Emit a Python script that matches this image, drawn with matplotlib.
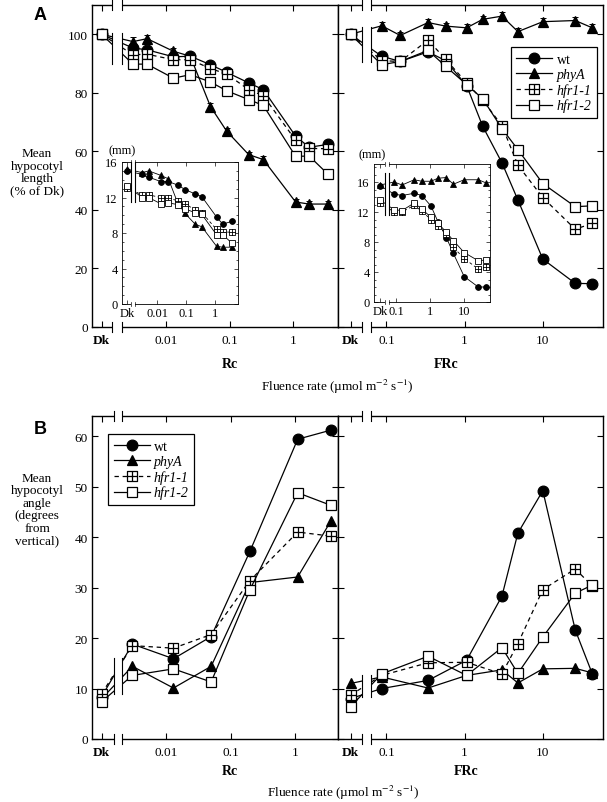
import numpy as np
import matplotlib
matplotlib.use('Agg')
import matplotlib.pyplot as plt
from matplotlib.path import Path
from matplotlib.transforms import blended_transform_factory

plt.rcParams['font.family'] = ['Liberation Serif', 'DejaVu Serif']
plt.rcParams['mathtext.fontset'] = 'stix'

# ---------------- data (first value of every series = Dk control) ----------------
genotypes = ['wt', 'phyA', 'hfr1-1', 'hfr1-2']

# A, main plots: hypocotyl length (% of Dk)
rc_len_fluence = [0.003, 0.005, 0.013, 0.024, 0.05, 0.09, 0.2, 0.34, 1.1, 1.8, 3.6]
rc_len_wt = [100, 95.3, 94.7, 92.3, 92.5, 89.6, 87.0, 83.4, 81.1, 65.2, 61.4, 62.4]
rc_len_phyA = [100, 97.5, 98.5, 94.2, 92.5, 75.3, 66.9, 58.9, 57.2, 42.7, 42.0, 42.0]
rc_len_hfr11 = [100, 93.0, 93.2, 91.3, 91.3, 88.3, 86.4, 81.1, 79.0, 63.8, 61.0, 60.9]
rc_len_hfr12 = [100, 89.8, 89.8, 85.0, 86.2, 83.7, 80.7, 77.7, 75.7, 58.3, 58.4, 52.1]
rc_len_err_phyA = [0, 1.6, 1.3, 1.2, 1.0, 1.3, 1.0, 1.0, 1.2, 0.9, 0.9, 0.9]

fr_len_fluence = [0.087, 0.15, 0.34, 0.57, 1.06, 1.7, 3.0, 4.8, 10, 26, 43]
fr_len_wt = [100, 92.5, 90.7, 94.0, 91.0, 82.5, 68.6, 56.1, 43.4, 23.2, 14.9, 14.8]
fr_len_phyA = [100, 102.9, 99.6, 104.0, 102.8, 102.2, 105.1, 106.2, 100.9, 104.3, 104.7, 102.2]
fr_len_hfr11 = [100, 91.0, 90.7, 98.0, 91.5, 83.4, 77.5, 68.8, 55.3, 44.2, 33.4, 35.4]
fr_len_hfr12 = [100, 89.6, 90.7, 94.5, 89.1, 82.8, 78.0, 67.8, 60.6, 49.0, 41.1, 41.4]
fr_len_err_phyA = [0, 1.3, 1.2, 1.3, 1.2, 1.2, 1.3, 1.3, 1.3, 1.3, 1.3, 1.3]

# A, insets: hypocotyl length (mm)
rc_mm_wt = [15.0, 14.6, 14.3, 13.8, 13.8, 13.4, 12.9, 12.4, 12.1, 9.8, 9.0, 9.3]
rc_mm_phyA = [15.2, 14.8, 15.0, 14.5, 14.1, 11.4, 10.2, 9.0, 8.7, 6.5, 6.4, 6.4]
rc_mm_hfr11 = [13.1, 12.3, 12.3, 12.0, 12.0, 11.6, 11.3, 10.6, 10.3, 8.4, 8.1, 8.1]
rc_mm_hfr12 = [13.3, 12.0, 12.0, 11.3, 11.4, 11.2, 10.7, 10.3, 10.1, 7.8, 7.8, 6.9]

fr_mm_wt = [15.5, 14.4, 14.2, 14.5, 14.2, 12.8, 10.7, 8.6, 6.5, 3.4, 2.0, 2.0]
fr_mm_phyA = [15.6, 16.0, 15.6, 16.3, 16.1, 16.1, 16.5, 16.6, 15.7, 16.3, 16.3, 15.9]
fr_mm_hfr11 = [13.2, 12.0, 12.0, 12.9, 12.1, 11.0, 10.2, 9.1, 7.3, 5.8, 4.4, 4.7]
fr_mm_hfr12 = [13.6, 12.3, 12.2, 13.2, 12.4, 11.3, 10.5, 9.3, 8.2, 6.6, 5.5, 5.6]

# B: hypocotyl angle (degrees from vertical)
rc_ang_fluence = [0.003, 0.013, 0.05, 0.2, 1.1, 3.6]
rc_ang_wt = [8.4, 18.8, 15.9, 20.3, 37.2, 59.4, 61.2]
rc_ang_phyA = [8.0, 14.4, 10.1, 14.4, 31.0, 32.1, 43.2]
rc_ang_hfr11 = [9.0, 18.5, 18.0, 20.7, 31.4, 41.0, 40.2]
rc_ang_hfr12 = [7.4, 12.6, 13.9, 11.3, 29.6, 48.8, 46.3]

fr_ang_fluence = [0.087, 0.34, 1.06, 3.0, 4.8, 10, 26, 43]
fr_ang_wt = [8.0, 10.0, 11.6, 15.6, 28.3, 40.8, 49.2, 21.6, 12.9]
fr_ang_phyA = [11.0, 12.3, 10.1, 12.6, 13.7, 11.1, 13.9, 14.0, 13.1]
fr_ang_hfr11 = [8.7, 12.6, 15.1, 15.2, 12.9, 18.9, 29.6, 33.7, 30.3]
fr_ang_hfr12 = [6.4, 12.9, 16.4, 12.6, 18.1, 13.0, 20.2, 28.9, 30.5]

# ---------------- styles ----------------
boxplus = Path([(-1, -1), (1, -1), (1, 1), (-1, 1), (-1, -1),
                (0, -1), (0, 1), (-1, 0), (1, 0)],
               [Path.MOVETO, Path.LINETO, Path.LINETO, Path.LINETO, Path.CLOSEPOLY,
                Path.MOVETO, Path.LINETO, Path.MOVETO, Path.LINETO])

STYLES = {
    'wt': dict(marker='o', mfc='black', ls='-', scale=1.1),
    'phyA': dict(marker='^', mfc='black', ls='-', scale=0.95),
    'hfr1-1': dict(marker=boxplus, mfc='white', ls=(0, (3.5, 3)), scale=1.0),
    'hfr1-2': dict(marker='s', mfc='white', ls='-', scale=1.0),
}

W, H = 607, 803
fig = plt.figure(figsize=(W / 100, H / 100), dpi=100)


def add_ax(x0, y0, x1, y1):
    """axes from pixel box (top-left origin)"""
    return fig.add_axes([x0 / W, 1 - y1 / H, (x1 - x0) / W, (y1 - y0) / H])


def draw(ax, fluence, series, dk_x, gap, xlim, ylim, xticks, brk, ms, lw,
         errs=None, tick_fs=9.5, bold_dk=True, spine_lw=1.0, minor_y=None, xpad=5):
    ax.set_xscale('log')
    for name, vals in zip(genotypes, series):
        st = STYLES[name]
        x = [dk_x] + list(fluence)
        ax.plot(x, vals, color='black', lw=lw, ls=st['ls'], marker=st['marker'],
                ms=ms * st['scale'], mfc=st['mfc'], mec='black', mew=lw, zorder=2)
        if errs and name in errs:
            ax.errorbar(x, vals, yerr=errs[name], fmt='none', ecolor='black',
                        elinewidth=0.7, capsize=2, capthick=0.7, zorder=1.9)
    ax.set_xlim(*xlim)
    ax.set_ylim(*ylim)

    # axis break: white gap, marks on the spines, short vertical lines
    ax.axvspan(gap[0], gap[1], ymin=-0.02, ymax=1.02, color='white', lw=0,
               zorder=2.6, clip_on=False)
    tr = blended_transform_factory(ax.transData, ax.transAxes)
    for g in gap:
        for yy in (0, 1):
            ax.plot([g, g], [yy - 0.015, yy + 0.015], color='black', lw=spine_lw * 0.8,
                    transform=tr, clip_on=False, zorder=3)
        ax.plot([g, g], brk, color='black', lw=0.8, zorder=3)

    ax.set_xticks([dk_x] + xticks[0])
    ax.set_xticklabels(['Dk'] + xticks[1], fontsize=tick_fs)
    if bold_dk:
        ax.get_xticklabels()[0].set_fontweight('bold')
    ax.xaxis.set_minor_locator(matplotlib.ticker.NullLocator())
    if minor_y is not None:
        ax.yaxis.set_minor_locator(matplotlib.ticker.MultipleLocator(minor_y))
    ax.tick_params(which='both', direction='in', top=True, right=True,
                   labelsize=tick_fs, width=spine_lw * 0.8)
    ax.tick_params(axis='x', pad=xpad)
    ax.tick_params(axis='y', pad=3)
    ax.tick_params(which='major', length=4 if spine_lw >= 1 else 3)
    ax.tick_params(which='minor', length=1.5)
    for sp in ax.spines.values():
        sp.set_linewidth(spine_lw)


lg = lambda a, b: (10 ** a, 10 ** b)
MS, LW = 7.0, 0.9
MS_IN, LW_IN = 3.8, 0.6

# ---------------- panel A ----------------
axA1 = add_ax(92, 6, 338, 328)
draw(axA1, rc_len_fluence, [rc_len_wt, rc_len_phyA, rc_len_hfr11, rc_len_hfr12],
     10 ** -3.02, lg(-2.85, -2.69), lg(-3.17, 0.71), (0, 110),
     ([0.01, 0.1, 1], ['0.01', '0.1', '1']), (90, 100.5), MS, LW,
     errs={'phyA': rc_len_err_phyA})
axA1.set_yticks([0, 20, 40, 60, 80, 100])

axA2 = add_ax(338, 6, 603, 328)
draw(axA2, fr_len_fluence, [fr_len_wt, fr_len_phyA, fr_len_hfr11, fr_len_hfr12],
     10 ** -1.46, lg(-1.31, -1.2), lg(-1.62, 1.77), (0, 110),
     ([0.1, 1, 10], ['0.1', '1', '10']), (90.5, 102.5), MS, LW,
     errs={'phyA': fr_len_err_phyA})
axA2.set_yticks([0, 20, 40, 60, 80, 100])
axA2.tick_params(labelleft=False)

# insets (mm)
inA1 = add_ax(122, 163, 238, 305)
draw(inA1, rc_len_fluence, [rc_mm_wt, rc_mm_phyA, rc_mm_hfr11, rc_mm_hfr12],
     10 ** -3.05, lg(-2.91, -2.78), lg(-3.22, 0.78), (0, 16),
     ([0.01, 0.1, 1], ['0.01', '0.1', '1']), (11.5, 16), MS_IN, LW_IN,
     tick_fs=9, bold_dk=False, spine_lw=0.6, minor_y=1, xpad=2.5)
inA1.set_yticks([0, 4, 8, 12, 16])

inA2 = add_ax(374, 165, 490, 303)
draw(inA2, fr_len_fluence, [fr_mm_wt, fr_mm_phyA, fr_mm_hfr11, fr_mm_hfr12],
     10 ** -1.47, lg(-1.32, -1.21), lg(-1.65, 1.76), (0, 18.4),
     ([0.1, 1, 10], ['0.1', '1', '10']), (11.6, 17.2), MS_IN, LW_IN,
     tick_fs=9, bold_dk=False, spine_lw=0.6, minor_y=1, xpad=2.5)
inA2.set_yticks([0, 4, 8, 12, 16])

fig.text(122 / W, 1 - 151 / H, '(mm)', ha='center', va='center', fontsize=9)
fig.text(372 / W, 1 - 155 / H, '(mm)', ha='center', va='center', fontsize=9)

# ---------------- panel B ----------------
axB1 = add_ax(92, 417, 338, 740)
draw(axB1, rc_ang_fluence, [rc_ang_wt, rc_ang_phyA, rc_ang_hfr11, rc_ang_hfr12],
     10 ** -3.0, lg(-2.81, -2.69), lg(-3.15, 0.667), (0, 64),
     ([0.01, 0.1, 1], ['0.01', '0.1', '1']), (9, 16), MS, LW)
axB1.set_yticks([0, 10, 20, 30, 40, 50, 60])

axB2 = add_ax(338, 417, 603, 740)
draw(axB2, fr_ang_fluence, [fr_ang_wt, fr_ang_phyA, fr_ang_hfr11, fr_ang_hfr12],
     10 ** -1.46, lg(-1.31, -1.2), lg(-1.62, 1.77), (0, 64),
     ([0.1, 1, 10], ['0.1', '1', '10']), (8.3, 12.6), MS, LW)
axB2.set_yticks([0, 10, 20, 30, 40, 50, 60])
axB2.tick_params(labelleft=False)


# ---------------- legends ----------------
def legend_handles():
    hs = []
    for name in genotypes:
        st = STYLES[name]
        h, = plt.plot([], [], color='black', lw=LW, ls=st['ls'], marker=st['marker'],
                      ms=MS * st['scale'], mfc=st['mfc'], mec='black', mew=LW)
        hs.append(h)
    return hs


for ax, loc, anchor in [(axA2, 'upper right', (597, 48)), (axB1, 'upper left', (108, 435))]:
    leg = ax.legend(legend_handles(), genotypes, loc=loc,
                    bbox_to_anchor=(anchor[0] / W, 1 - anchor[1] / H),
                    bbox_transform=fig.transFigure, borderaxespad=0,
                    fontsize=10, frameon=True, fancybox=False, framealpha=1,
                    edgecolor='black', handlelength=2.6, handletextpad=0.3,
                    labelspacing=0.15, borderpad=0.4)
    leg.get_frame().set_linewidth(0.9)
    leg.set_zorder(5)
    for t in leg.get_texts()[1:]:
        t.set_fontstyle('italic')

# ---------------- labels ----------------
fig.text(40 / W, 1 - 16 / H, 'A', fontsize=13, fontweight='bold',
         family=['Liberation Sans', 'DejaVu Sans'], ha='center', va='center')
fig.text(40 / W, 1 - 430 / H, 'B', fontsize=13, fontweight='bold',
         family=['Liberation Sans', 'DejaVu Sans'], ha='center', va='center')

fig.text(37 / W, 1 - 173 / H, 'Mean\nhypocotyl\nlength\n(% of Dk)', ha='center',
         va='center', fontsize=9.5, linespacing=1.05)
fig.text(37 / W, 1 - 510 / H, 'Mean\nhypocotyl\nangle\n(degrees\nfrom\nvertical)',
         ha='center', va='center', fontsize=9.5, linespacing=1.05)

fig.text(230 / W, 1 - 365 / H, 'Rc', ha='center', va='center', fontsize=10, fontweight='bold')
fig.text(446 / W, 1 - 365 / H, 'FRc', ha='center', va='center', fontsize=10, fontweight='bold')
fig.text(230 / W, 1 - 772 / H, 'Rc', ha='center', va='center', fontsize=10, fontweight='bold')
fig.text(466 / W, 1 - 772 / H, 'FRc', ha='center', va='center', fontsize=10, fontweight='bold')

flu = 'Fluence rate (\u00b5mol m$^{-2}$ s$^{-1}$)'
fig.text(337 / W, 1 - 387 / H, flu, ha='center', va='center', fontsize=9.5)
fig.text(343 / W, 1 - 793 / H, flu, ha='center', va='center', fontsize=9.5)

fig.savefig('out.png', dpi=100, facecolor='white')
